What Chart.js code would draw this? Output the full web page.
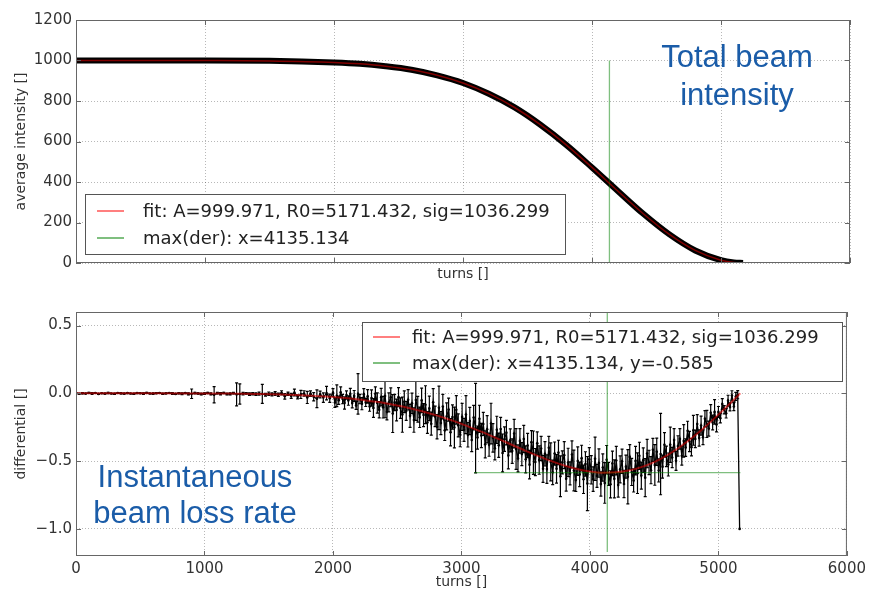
<!DOCTYPE html>
<html>
<head>
<meta charset="utf-8">
<script src="https://cdn.jsdelivr.net/npm/chart.js@4.4.1/dist/chart.umd.min.js"></script>
<style>
  html, body { margin: 0; padding: 0; background: #fff; }
  #wrap { position: relative; width: 870px; height: 593px; overflow: hidden; }
  canvas { position: absolute; left: 0; }
  #topChart { top: 0; }
  #bottomChart { top: 290px; }
  .note { position: absolute; color: #1a5ca8; font-family: "Liberation Sans", Arial, sans-serif; font-size: 31px; text-align: center; white-space: nowrap; }
</style>
</head>
<body>
<div id="wrap">
  <canvas id="topChart" width="870" height="290"></canvas>
  <canvas id="bottomChart" width="870" height="303"></canvas>
  <div class="note" style="left:637px; top:38px; width:200px; line-height:38px;">Total beam<br>intensity</div>
  <div class="note" style="left:75px; top:459px; width:240px; line-height:36px;">Instantaneous<br>beam loss rate</div>
</div>
<script>
// labels
const fitLabel = 'fit: A=999.971, R0=5171.432, sig=1036.299';
const derLabelTop = 'max(der): x=4135.134';
const derLabelBottom = 'max(der): x=4135.134, y=-0.585';

// ticks
const turnTicks = [0, 1000, 2000, 3000, 4000, 5000, 6000];
const intensityTicks = [0, 200, 400, 600, 800, 1000, 1200];
const diffTicks = [-1.0, -0.5, 0.0, 0.5];

// top panel: average intensity
const intensityTurns = [0, 500, 1000, 1500, 2000, 2200, 2400, 2600, 2800, 3000, 3200, 3400, 3600, 3800, 4000, 4200, 4400, 4600, 4800, 5000, 5100, 5171];
const intensityMeasured = [1000.3, 999.8, 999.9, 998.4, 990.2, 983.9, 971.6, 954.3, 926.8, 889.0, 835.8, 768.3, 682.9, 583.6, 471.7, 355.8, 241.6, 141.2, 61.9, 13.7, 2.4, 0.2];
const intensityFit = [999.97, 999.97, 999.7, 998.1, 990.7, 983.6, 972.0, 953.9, 927.1, 888.6, 836.2, 767.9, 683.2, 583.3, 472.0, 355.4, 241.9, 140.9, 62.1, 13.5, 2.3, 0];

// max derivative markers
const derMaxTurn = 4135.134;
const derMaxValue = -0.585;
const derLineTopY = [0, 1000];
const derLineBottomY = [-1.17, 0.6];
const derLineBottomX = [3099, 5171];

// bottom panel: differential (measured, with error bars)
const diffTurns = [
  0,25,50,75,100,125,150,175,
  200,225,250,275,300,325,350,375,
  400,425,450,475,500,525,550,575,
  600,625,650,675,700,725,750,775,
  800,825,850,875,900,925,950,975,
  1000,1025,1050,1075,1100,1125,1150,1175,
  1200,1225,1250,1275,1300,1325,1350,1375,
  1400,1425,1450,1475,1500,1525,1550,1575,
  1600,1625,1650,1675,1700,1725,1750,1775,
  1800,1825,1850,1875,1900,1925,1950,1975,
  2000,2015,2030,2045,2060,2075,2090,2105,2120,2135,
  2150,2165,2180,2195,2210,2225,2240,2255,2270,2285,
  2300,2315,2330,2345,2360,2375,2390,2405,2420,2435,
  2450,2465,2480,2495,2510,2525,2540,2555,2570,2585,
  2600,2615,2630,2645,2660,2675,2690,2705,2720,2735,
  2750,2765,2780,2795,2810,2825,2840,2855,2870,2885,
  2900,2915,2930,2945,2960,2975,2990,3005,3020,3035,
  3050,3065,3080,3095,3110,3125,3140,3155,3170,3185,
  3200,3215,3230,3245,3260,3275,3290,3305,3320,3335,
  3350,3365,3380,3395,3410,3425,3440,3455,3470,3485,
  3500,3515,3530,3545,3560,3575,3590,3605,3620,3635,
  3650,3665,3680,3695,3710,3725,3740,3755,3770,3785,
  3800,3815,3830,3845,3860,3875,3890,3905,3920,3935,
  3950,3965,3980,3995,4010,4025,4040,4055,4070,4085,
  4100,4115,4130,4145,4160,4175,4190,4205,4220,4235,
  4250,4265,4280,4295,4310,4325,4340,4355,4370,4385,
  4400,4415,4430,4445,4460,4475,4490,4505,4520,4535,
  4550,4565,4580,4595,4610,4625,4640,4655,4670,4685,
  4700,4715,4730,4745,4760,4775,4790,4805,4820,4835,
  4850,4865,4880,4895,4910,4925,4940,4955,4970,4985,
  5000,5015,5030,5045,5060,5075,5090,5105,5120,5135,
  5150,
  5165
];
const diffValues = [
  0.002,-0.003,0.001,-0.002,0.003,-0.001,0.002,-0.004,
  0.001,-0.002,0.003,-0.001,-0.003,0.002,0.000,-0.002,
  0.002,-0.001,-0.003,0.002,0.001,-0.002,0.003,-0.001,
  -0.002,0.001,0.003,-0.003,0.000,0.002,-0.001,-0.004,
  0.001,-0.003,0.002,-0.004,-0.003,0.002,-0.001,-0.005,
  -0.002,0.002,-0.004,-0.010,0.001,-0.003,0.002,-0.005,
  -0.004,0.001,-0.008,-0.005,-0.002,0.000,-0.006,-0.003,
  -0.006,-0.002,-0.004,-0.011,-0.003,-0.008,-0.001,-0.010,
  0.004,-0.022,-0.003,-0.019,0.006,-0.026,-0.008,-0.001,
  -0.030,-0.002,-0.025,-0.040,-0.008,-0.031,0.002,-0.036,
  0.005,-0.068,-0.018,-0.051,0.008,-0.042,-0.071,-0.012,-0.053,-0.003,
  -0.072,-0.019,-0.089,-0.004,-0.042,-0.076,-0.006,-0.067,-0.022,-0.097,
  -0.034,-0.108,-0.003,-0.071,-0.121,-0.028,-0.102,-0.020,-0.136,-0.067,
  -0.029,-0.149,-0.067,-0.123,-0.028,-0.109,-0.157,-0.062,-0.130,-0.048,
  -0.166,-0.074,-0.197,-0.049,-0.117,-0.177,-0.052,-0.160,-0.084,-0.215,
  -0.111,-0.224,-0.066,-0.170,-0.246,-0.107,-0.219,-0.098,-0.273,-0.170,
  -0.120,-0.287,-0.175,-0.252,-0.122,-0.236,-0.304,-0.174,-0.269,-0.157,
  -0.306,-0.204,-0.345,-0.179,-0.257,-0.326,-0.188,-0.311,-0.226,-0.376,
  -0.265,-0.379,-0.223,-0.328,-0.406,-0.269,-0.383,-0.263,-0.440,-0.338,
  -0.290,-0.458,-0.347,-0.426,-0.297,-0.411,-0.480,-0.351,-0.448,-0.337,
  -0.487,-0.385,-0.526,-0.360,-0.438,-0.507,-0.369,-0.492,-0.407,-0.557,
  -0.446,-0.559,-0.402,-0.506,-0.583,-0.444,-0.557,-0.436,-0.612,-0.509,
  -0.456,-0.631,-0.510,-0.591,-0.451,-0.569,-0.639,-0.500,-0.598,-0.478,
  -0.634,-0.521,-0.666,-0.486,-0.564,-0.633,-0.483,-0.609,-0.514,-0.669,
  -0.547,-0.661,-0.490,-0.595,-0.671,-0.517,-0.631,-0.496,-0.676,-0.561,
  -0.501,-0.669,-0.541,-0.615,-0.469,-0.580,-0.643,-0.497,-0.589,-0.461,
  -0.607,-0.493,-0.622,-0.444,-0.510,-0.567,-0.417,-0.528,-0.431,-0.569,
  -0.448,-0.541,-0.380,-0.465,-0.525,-0.379,-0.473,-0.345,-0.498,-0.388,
  -0.336,-0.460,-0.351,-0.400,-0.276,-0.355,-0.397,-0.273,-0.336,-0.227,
  -0.330,-0.238,-0.324,-0.187,-0.226,-0.260,-0.143,-0.215,-0.137,-0.229,
  -0.137,-0.183,-0.079,-0.121,-0.147,-0.054,-0.100,-0.016,-0.097,-0.023,
  -0.010,
  -1.000
];
const diffErrors = [
  0.004,0.003,0.005,0.003,0.004,0.006,0.003,0.004,
  0.003,0.004,0.005,0.003,0.004,0.003,0.005,0.004,
  0.004,0.003,0.005,0.004,0.003,0.005,0.004,0.003,
  0.005,0.004,0.003,0.005,0.004,0.003,0.006,0.004,
  0.005,0.006,0.004,0.008,0.035,0.006,0.005,0.007,
  0.006,0.005,0.007,0.060,0.006,0.008,0.005,0.007,
  0.008,0.006,0.085,0.075,0.009,0.006,0.010,0.008,
  0.010,0.012,0.070,0.010,0.013,0.011,0.014,0.012,
  0.015,0.020,0.012,0.018,0.025,0.015,0.030,0.020,
  0.045,0.020,0.030,0.065,0.025,0.035,0.050,0.030,
  0.030,0.035,0.080,0.030,0.040,0.035,0.045,0.030,0.035,0.040,
  0.035,0.040,0.030,0.150,0.035,0.045,0.040,0.030,0.050,0.035,
  0.060,0.070,0.050,0.075,0.060,0.065,0.080,0.160,0.060,0.070,
  0.070,0.140,0.060,0.080,0.070,0.075,0.130,0.080,0.070,0.075,
  0.085,0.075,0.090,0.150,0.095,0.075,0.090,0.085,0.140,0.080,
  0.090,0.085,0.100,0.075,0.090,0.160,0.085,0.090,0.075,0.100,
  0.085,0.100,0.090,0.150,0.105,0.085,0.090,0.100,0.085,0.140,
  0.090,0.100,0.085,0.090,0.330,0.085,0.100,0.090,0.085,0.100,
  0.100,0.085,0.150,0.105,0.085,0.100,0.090,0.085,0.140,0.090,
  0.090,0.100,0.085,0.090,0.105,0.150,0.100,0.090,0.085,0.100,
  0.100,0.090,0.105,0.085,0.160,0.100,0.085,0.105,0.090,0.100,
  0.090,0.105,0.085,0.140,0.090,0.085,0.105,0.090,0.150,0.085,
  0.100,0.090,0.105,0.085,0.100,0.150,0.085,0.105,0.090,0.095,
  0.105,0.090,0.200,0.085,0.105,0.090,0.160,0.085,0.105,0.090,
  0.100,0.150,0.105,0.085,0.100,0.090,0.140,0.105,0.090,0.100,
  0.090,0.100,0.085,0.200,0.090,0.100,0.085,0.105,0.150,0.100,
  0.100,0.090,0.140,0.105,0.090,0.100,0.085,0.150,0.100,0.085,
  0.300,0.085,0.090,0.075,0.085,0.130,0.075,0.085,0.070,0.075,
  0.075,0.070,0.120,0.065,0.070,0.075,0.065,0.110,0.065,0.070,
  0.060,0.070,0.055,0.060,0.100,0.055,0.060,0.055,0.090,0.055,
  0.040,0.035,0.040,0.030,0.035,0.040,0.030,0.035,0.030,0.030,
  0.030,
  0
];

// bottom panel: fitted derivative
const diffFitTurns = [0, 500, 1000, 1200, 1400, 1600, 1800, 2000, 2100, 2200, 2300, 2400, 2500, 2600, 2700, 2800, 2900, 3000, 3100, 3200, 3300, 3400, 3500, 3600, 3700, 3800, 3900, 4000, 4100, 4200, 4300, 4400, 4500, 4600, 4700, 4800, 4900, 5000, 5100, 5171];
const diffFit = [0, 0, -0.001, -0.002, -0.005, -0.009, -0.016, -0.027, -0.035, -0.045, -0.058, -0.072, -0.090, -0.110, -0.134, -0.161, -0.192, -0.225, -0.262, -0.301, -0.341, -0.383, -0.424, -0.463, -0.500, -0.532, -0.558, -0.576, -0.585, -0.583, -0.570, -0.544, -0.507, -0.457, -0.396, -0.324, -0.244, -0.157, -0.066, 0];

const FONT = '"DejaVu Sans", "Bitstream Vera Sans", sans-serif';
const TEXT = '#333';
const RED = 'rgba(255,0,0,0.5)';
const GREEN = 'rgba(0,128,0,0.5)';
Chart.defaults.font.family = FONT;

const pts = (xs, ys) => xs.map((x, i) => ({ x: x, y: ys[i] }));

// frame + inward tick marks (matplotlib classic look)
const frameTicks = {
  id: 'frameTicks',
  afterDatasetsDraw(chart) {
    const { ctx, chartArea: a, scales } = chart;
    ctx.save();
    ctx.strokeStyle = '#666';
    ctx.lineWidth = 1;
    ctx.strokeRect(a.left + 0.5, a.top + 0.5, a.right - a.left - 1, a.bottom - a.top - 1);
    ctx.beginPath();
    scales.x.ticks.forEach(t => {
      const px = Math.round(scales.x.getPixelForValue(t.value)) + 0.5;
      ctx.moveTo(px, a.bottom); ctx.lineTo(px, a.bottom - 5);
      ctx.moveTo(px, a.top); ctx.lineTo(px, a.top + 5);
    });
    scales.y.ticks.forEach(t => {
      const py = Math.round(scales.y.getPixelForValue(t.value)) + 0.5;
      ctx.moveTo(a.left, py); ctx.lineTo(a.left + 5, py);
      ctx.moveTo(a.right, py); ctx.lineTo(a.right - 5, py);
    });
    ctx.stroke();
    ctx.restore();
  }
};

// vertical error bars for datasets carrying an `errors` array
const errorBars = {
  id: 'errorBars',
  beforeDatasetDraw(chart, args) {
    const ds = chart.data.datasets[args.index];
    if (!ds.errors) return;
    const { ctx, chartArea: a, scales: { x, y } } = chart;
    ctx.save();
    ctx.beginPath();
    ctx.rect(a.left, a.top, a.right - a.left, a.bottom - a.top);
    ctx.clip();
    ctx.strokeStyle = '#000';
    ctx.lineWidth = 1.2;
    ctx.beginPath();
    ds.data.forEach((p, i) => {
      const e = ds.errors[i];
      if (!e) return;
      const px = x.getPixelForValue(p.x);
      const y1 = y.getPixelForValue(p.y - e);
      const y2 = y.getPixelForValue(p.y + e);
      ctx.moveTo(px, y1); ctx.lineTo(px, y2);
      ctx.moveTo(px - 1.5, y1); ctx.lineTo(px + 1.5, y1);
      ctx.moveTo(px - 1.5, y2); ctx.lineTo(px + 1.5, y2);
    });
    ctx.stroke();
    ctx.restore();
  }
};

// boxed legend inside the plot
const boxLegend = {
  id: 'boxLegend',
  afterDraw(chart, args, opts) {
    const ctx = chart.ctx;
    const items = chart.data.datasets.filter(d => d.inLegend);
    ctx.save();
    ctx.fillStyle = '#fff';
    ctx.fillRect(opts.x, opts.y, opts.w, opts.h);
    ctx.strokeStyle = '#555';
    ctx.lineWidth = 1;
    ctx.strokeRect(opts.x + 0.5, opts.y + 0.5, opts.w, opts.h);
    ctx.font = '18px ' + FONT;
    ctx.textBaseline = 'middle';
    items.forEach((d, i) => {
      const cy = opts.rows[i];
      ctx.strokeStyle = d.borderColor;
      ctx.lineWidth = 2;
      ctx.beginPath();
      ctx.moveTo(opts.lineX, cy); ctx.lineTo(opts.lineX + 27, cy);
      ctx.stroke();
      ctx.fillStyle = '#222';
      ctx.fillText(d.label, opts.textX, cy + 1);
    });
    ctx.restore();
  }
};

function xScale(showLabels, height, titlePad) {
  return {
    type: 'linear', min: 0, max: 6000,
    afterBuildTicks(s) { s.ticks = turnTicks.map(v => ({ value: v })); },
    ticks: { display: showLabels, padding: 4, color: TEXT, font: { size: 15 }, callback: v => String(v) },
    grid: { color: 'rgba(0,0,0,0.28)', drawTicks: false },
    border: { display: false, dash: [1, 2] },
    title: { display: true, text: 'turns []', color: TEXT, font: { size: 14 }, padding: { top: 0, bottom: titlePad } },
    afterFit(s) { s.height = height; }
  };
}

function yScale(min, max, tickVals, title, fmt) {
  return {
    min: min, max: max,
    afterBuildTicks(s) { s.ticks = tickVals.map(v => ({ value: v })); },
    ticks: { padding: 4, color: TEXT, font: { size: 15 }, callback: fmt },
    grid: { color: 'rgba(0,0,0,0.28)', drawTicks: false },
    border: { display: false, dash: [1, 2] },
    title: { display: true, text: title, color: TEXT, font: { size: 14 }, padding: { top: 13, bottom: 0 } },
    afterFit(s) { s.width = 76; }
  };
}

new Chart(document.getElementById('topChart'), {
  type: 'line',
  data: {
    datasets: [
      { label: fitLabel, inLegend: true, data: pts(intensityTurns, intensityFit), borderColor: RED, borderWidth: 1.5, pointRadius: 0, cubicInterpolationMode: 'monotone', order: 0 },
      { label: derLabelTop, inLegend: true, data: pts([derMaxTurn, derMaxTurn], derLineTopY), borderColor: GREEN, borderWidth: 1.3, pointRadius: 0, order: 1 },
      { label: 'average intensity', data: pts(intensityTurns, intensityMeasured), borderColor: '#000', borderWidth: 6, pointRadius: 0, cubicInterpolationMode: 'monotone', order: 2 }
    ]
  },
  options: {
    responsive: false, animation: false, events: [],
    layout: { padding: { left: 0, right: 20, top: 20, bottom: 0 } },
    plugins: {
      legend: { display: false }, tooltip: { enabled: false },
      boxLegend: { x: 85, y: 194, w: 480, h: 60, rows: [211, 238], lineX: 97, textX: 143 }
    },
    scales: {
      x: xScale(false, 27, 7),
      y: yScale(0, 1200, intensityTicks, 'average intensity []', v => String(v))
    }
  },
  plugins: [frameTicks, errorBars, boxLegend]
});

new Chart(document.getElementById('bottomChart'), {
  type: 'line',
  data: {
    datasets: [
      { label: fitLabel, inLegend: true, data: pts(diffFitTurns, diffFit), borderColor: RED, borderWidth: 2, pointRadius: 0, cubicInterpolationMode: 'monotone', order: 0 },
      { label: derLabelBottom, inLegend: true, data: pts([derMaxTurn, derMaxTurn], derLineBottomY), borderColor: GREEN, borderWidth: 1.3, pointRadius: 0, order: 1 },
      { label: 'max(der) level', data: pts(derLineBottomX, [derMaxValue, derMaxValue]), borderColor: GREEN, borderWidth: 1.3, pointRadius: 0, order: 1 },
      { label: 'differential', data: pts(diffTurns, diffValues), errors: diffErrors, borderColor: '#000', borderWidth: 1.3, pointRadius: 1.3, pointBackgroundColor: '#000', pointBorderWidth: 0, order: 2 }
    ]
  },
  options: {
    responsive: false, animation: false, events: [],
    layout: { padding: { left: 0, right: 20, top: 22, bottom: 0 } },
    plugins: {
      legend: { display: false }, tooltip: { enabled: false },
      boxLegend: { x: 362, y: 32, w: 480, h: 59, rows: [47, 73], lineX: 373, textX: 412 }
    },
    scales: {
      x: xScale(true, 37, 2),
      y: yScale(-1.2, 0.6, diffTicks, 'differential []', v => v.toFixed(1).replace('-', '\u2212'))
    }
  },
  plugins: [frameTicks, errorBars, boxLegend]
});
</script>
</body>
</html>
